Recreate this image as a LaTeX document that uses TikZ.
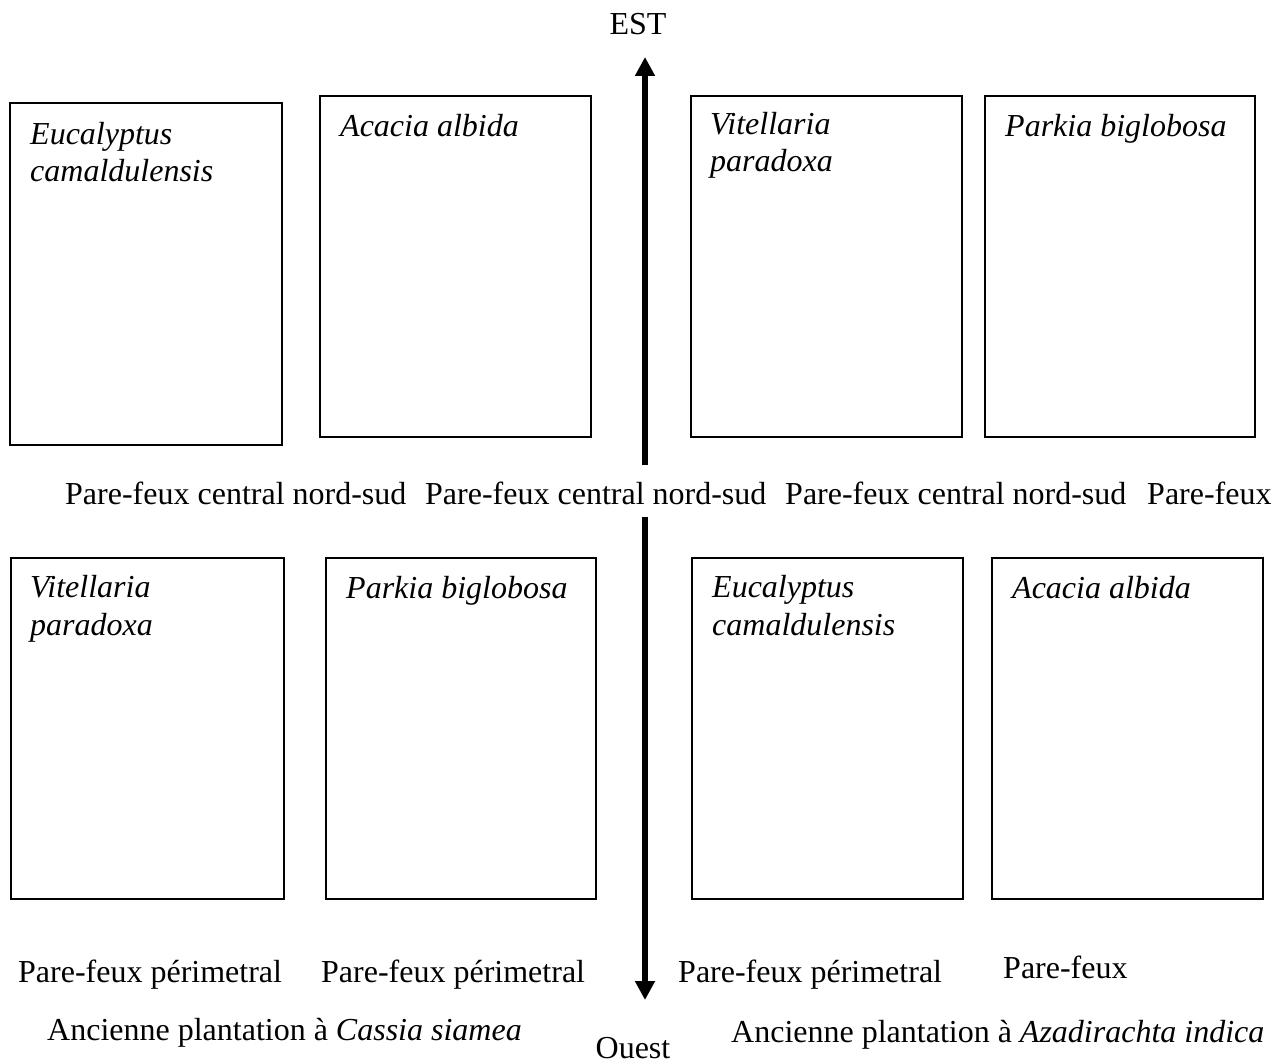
\documentclass[tikz,border=0pt]{standalone}
\usepackage{fontspec}
\setmainfont{Liberation Serif}
\usetikzlibrary{arrows.meta}
\begin{document}
\begin{tikzpicture}[x=1pt,y=-1pt,
  plot/.style={draw=black,line width=1.7pt,fill=none,inner sep=0pt},
  species/.style={inner sep=0pt,anchor=base west,align=left,font=\fontsize{32}{37.5}\selectfont\itshape},
  txt/.style={inner sep=0pt,anchor=base west,font=\fontsize{32}{37.5}\selectfont},
  bigarrow/.style={line width=6.5pt,-{Triangle[width=19pt,length=19pt]}}]
\useasboundingbox (0,0) rectangle (1285,1064);
% plots, top row
\draw[plot] (10,103) rectangle (282,445) node[pos=0.5,draw=none] (b1) {};
\draw[plot] (320,96) rectangle (591,437) node[pos=0.5,draw=none] (b2) {};
\draw[plot] (691,96) rectangle (962,437) node[pos=0.5,draw=none] (b3) {};
\draw[plot] (985,96) rectangle (1255,437) node[pos=0.5,draw=none] (b4) {};
% plots, bottom row
\draw[plot] (11,558) rectangle (284,899) node[pos=0.5,draw=none] (b5) {};
\draw[plot] (326,558) rectangle (596,899) node[pos=0.5,draw=none] (b6) {};
\draw[plot] (692,558) rectangle (963,899) node[pos=0.5,draw=none] (b7) {};
\draw[plot] (992,558) rectangle (1263,899) node[pos=0.5,draw=none] (b8) {};
% species names (base anchor = last line)
\node[species] (s1) at (30,182) {Eucalyptus\\camaldulensis};
\node[species] (s2) at (340,137) {Acacia albida};
\node[species] (s3) at (710,172) {Vitellaria\\paradoxa};
\node[species] (s4) at (1005,137) {Parkia biglobosa};
\node[species] (s5) at (30,635) {Vitellaria\\paradoxa};
\node[species] (s6) at (346,598) {Parkia biglobosa};
\node[species] (s7) at (712,635) {Eucalyptus\\camaldulensis};
\node[species] (s8) at (1012,598) {Acacia albida};
% orientation
\node[txt,anchor=base] (est) at (638,35) {EST};
\node[txt,anchor=base] (ouest) at (633,1058) {Ouest};
\coordinate (upfrom) at (645,465);
\coordinate (upto) at (645,57);
\coordinate (downfrom) at (645,517);
\coordinate (downto) at (645,1000);
\draw[bigarrow] (upfrom) -- (upto);
\draw[bigarrow] (downfrom) -- (downto);
% firebreaks
\node[txt] (c1) at (65,504) {Pare-feux central nord-sud};
\node[txt] (c2) at (425,504) {Pare-feux central nord-sud};
\node[txt] (c3) at (785,504) {Pare-feux central nord-sud};
\node[txt] (c4) at (1147,504) {Pare-feux};
\node[txt] (p1) at (18,982) {Pare-feux périmetral};
\node[txt] (p2) at (321,982) {Pare-feux périmetral};
\node[txt] (p3) at (678,982) {Pare-feux périmetral};
\node[txt] (p4) at (1003,978) {Pare-feux};
\node[txt] (a1) at (47,1040) {Ancienne plantation à \textit{Cassia siamea}};
\node[txt] (a2) at (731,1042) {Ancienne plantation à \textit{Azadirachta indica}};
\end{tikzpicture}
\end{document}
